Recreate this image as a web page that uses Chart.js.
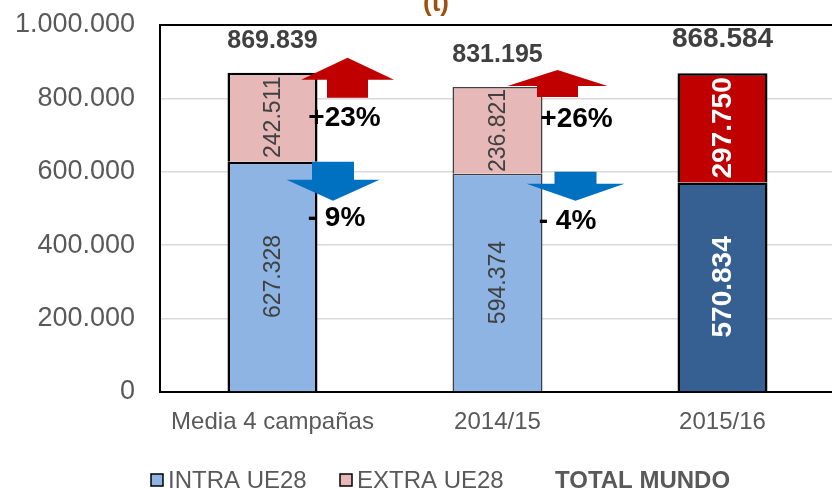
<!DOCTYPE html>
<html>
<head>
<meta charset="utf-8">
<script src="https://cdn.jsdelivr.net/npm/chart.js@4/dist/chart.umd.min.js"></script>
<style>
html, body { margin: 0; padding: 0; background: #fff; overflow: hidden; }
</style>
</head>
<body>
<canvas id="chart" width="840" height="489"></canvas>
<script>
var categories = ["Media 4 campañas", "2014/15", "2015/16"];
var intraUE28 = [627328, 594374, 570834];
var extraUE28 = [242511, 236821, 297750];
var totalMundo = [869839, 831195, 868584];
var yTicks = [0, 200000, 400000, 600000, 800000, 1000000];

var font = "'Liberation Sans', Arial, sans-serif";
var grey = "#595959";
var dark = "#404040";

function fmt(n){
  return String(n).replace(/\B(?=(\d{3})+(?!\d))/g, ".");
}

function pct(a, b){
  var v = Math.round((a / b - 1) * 100);
  return v > 0 ? "+" + v + "%" : "- " + Math.abs(v) + "%";
}

// arrows next to the first two bars, offsets in px from the bar edge / segment top
var arrows = [
  {cat: 0, ds: 1, dir: "up",   dx: 30,   tip: -15, base: 7,  end: 25, head: 46.5, shaft: 20.5, color: "#C00000", tdx: 27, tdy: 46},
  {cat: 1, ds: 1, dir: "up",   dx: 15,   tip: -17, base: -1, end: 10, head: 50,   shaft: 20.5, color: "#C00000", tdx: 34, tdy: 32},
  {cat: 0, ds: 0, dir: "down", dx: 15.5, tip: 39,  base: 18, end: 0,  head: 46.5, shaft: 21,   color: "#0070C0", tdx: 19, tdy: 57},
  {cat: 1, ds: 0, dir: "down", dx: 33,   tip: 27,  base: 10, end: -2, head: 49,   shaft: 21,   color: "#0070C0", tdx: 25, tdy: 47}
];

var barLabels = {
  id: "barLabels",
  afterDatasetsDraw: function(chart){
    var ctx = chart.ctx;
    var last = categories.length - 1;

    // values inside the segments
    chart.data.datasets.forEach(function(ds, di){
      chart.getDatasetMeta(di).data.forEach(function(bar, i){
        ctx.save();
        ctx.translate(bar.x, (bar.y + bar.base) / 2);
        ctx.rotate(-Math.PI / 2);
        ctx.font = (i == last ? "bold 28px " : "23px ") + font;
        ctx.fillStyle = i == last ? "#ffffff" : dark;
        ctx.textAlign = "center";
        ctx.textBaseline = "middle";
        ctx.fillText(fmt(ds.data[i]), 0, 1);
        ctx.restore();
      });
    });

    // totals on top
    var topMeta = chart.getDatasetMeta(1);
    topMeta.data.forEach(function(bar, i){
      ctx.save();
      ctx.font = "bold " + (i == last ? 28 : 25) + "px " + font;
      ctx.fillStyle = dark;
      ctx.textAlign = "center";
      ctx.textBaseline = "middle";
      ctx.fillText(fmt(totalMundo[i]), bar.x, bar.y - (i == last ? 34 : 32));
      ctx.restore();
    });

    // arrows and changes against the last campaign
    arrows.forEach(function(a){
      var bar = chart.getDatasetMeta(a.ds).data[a.cat];
      var cx = bar.x + bar.width / 2 + a.dx;
      var y0 = bar.y;
      ctx.save();
      ctx.fillStyle = a.color;
      ctx.beginPath();
      ctx.moveTo(cx - a.shaft, y0 + a.end);
      ctx.lineTo(cx - a.shaft, y0 + a.base);
      ctx.lineTo(cx - a.head, y0 + a.base);
      ctx.lineTo(cx, y0 + a.tip);
      ctx.lineTo(cx + a.head, y0 + a.base);
      ctx.lineTo(cx + a.shaft, y0 + a.base);
      ctx.lineTo(cx + a.shaft, y0 + a.end);
      ctx.closePath();
      ctx.fill();

      var src = a.ds == 1 ? extraUE28 : intraUE28;
      ctx.font = "bold 28px " + font;
      ctx.fillStyle = "#000000";
      ctx.textAlign = "center";
      ctx.textBaseline = "middle";
      ctx.fillText(pct(src[last], src[a.cat]), bar.x + bar.width / 2 + a.tdx, y0 + a.tdy);
      ctx.restore();
    });
  },
  afterDraw: function(chart){
    var ctx = chart.ctx;
    var area = chart.chartArea;
    ctx.save();
    // frame top and right
    ctx.strokeStyle = "#000000";
    ctx.lineWidth = 2;
    ctx.beginPath();
    ctx.moveTo(area.left - 1, area.top);
    ctx.lineTo(area.right, area.top);
    ctx.lineTo(area.right, area.bottom);
    ctx.stroke();

    // title remainder (rest is cut off above)
    ctx.font = "bold 26px " + font;
    ctx.fillStyle = "#A0500E";
    ctx.textAlign = "center";
    ctx.textBaseline = "alphabetic";
    ctx.fillText("(t)", 436, 11);

    // legend
    var items = [
      {x: 151, text: "INTRA UE28", color: "#8EB4E3"},
      {x: 340, text: "EXTRA UE28", color: "#E6B9B8"}
    ];
    ctx.textAlign = "left";
    ctx.textBaseline = "middle";
    items.forEach(function(it){
      ctx.fillStyle = it.color;
      ctx.fillRect(it.x, 474, 12, 12);
      ctx.strokeStyle = "#000000";
      ctx.lineWidth = 1.5;
      ctx.strokeRect(it.x, 474, 12, 12);
      ctx.font = "24px " + font;
      ctx.fillStyle = grey;
      ctx.fillText(it.text, it.x + 17, 481);
    });
    ctx.font = "bold 24px " + font;
    ctx.fillStyle = grey;
    ctx.fillText("TOTAL MUNDO", 555, 481);
    ctx.restore();
  }
};

new Chart(document.getElementById("chart"), {
  type: "bar",
  data: {
    labels: categories,
    datasets: [
      {
        label: "INTRA UE28",
        data: intraUE28,
        backgroundColor: ["#8EB4E3", "#8EB4E3", "#376092"],
        borderColor: ["#000000", "#404040", "#000000"],
        borderWidth: [2.5, 1.5, 2.5]
      },
      {
        label: "EXTRA UE28",
        data: extraUE28,
        backgroundColor: ["#E6B9B8", "#E6B9B8", "#C00000"],
        borderColor: ["#000000", "#404040", "#000000"],
        borderWidth: [2.5, 1.5, 2.5]
      }
    ]
  },
  options: {
    responsive: false,
    animation: false,
    barPercentage: 0.4,
    categoryPercentage: 1,
    layout: { padding: { top: 25, right: 5, left: 0, bottom: 0 } },
    plugins: {
      legend: { display: false },
      tooltip: { enabled: false }
    },
    scales: {
      x: {
        stacked: true,
        grid: { display: false, drawTicks: false },
        border: { color: "#000000", width: 2 },
        ticks: { color: grey, font: { family: font, size: 24 }, padding: 16 },
        afterFit: function(scale){ scale.height = 97; }
      },
      y: {
        stacked: true,
        min: 0,
        max: 1000000,
        afterBuildTicks: function(scale){
          scale.ticks = yTicks.map(function(v){ return {value: v}; });
        },
        grid: { color: "#D9D9D9", lineWidth: 1.5, drawTicks: false },
        border: { color: "#000000", width: 2 },
        ticks: {
          color: grey,
          font: { family: font, size: 27 },
          padding: 25,
          callback: function(v){ return fmt(v); }
        },
        afterFit: function(scale){
          scale.width = 160;
          scale.paddingTop = 0;
          scale.paddingBottom = 0;
        }
      }
    }
  },
  plugins: [barLabels]
});
</script>
</body>
</html>
